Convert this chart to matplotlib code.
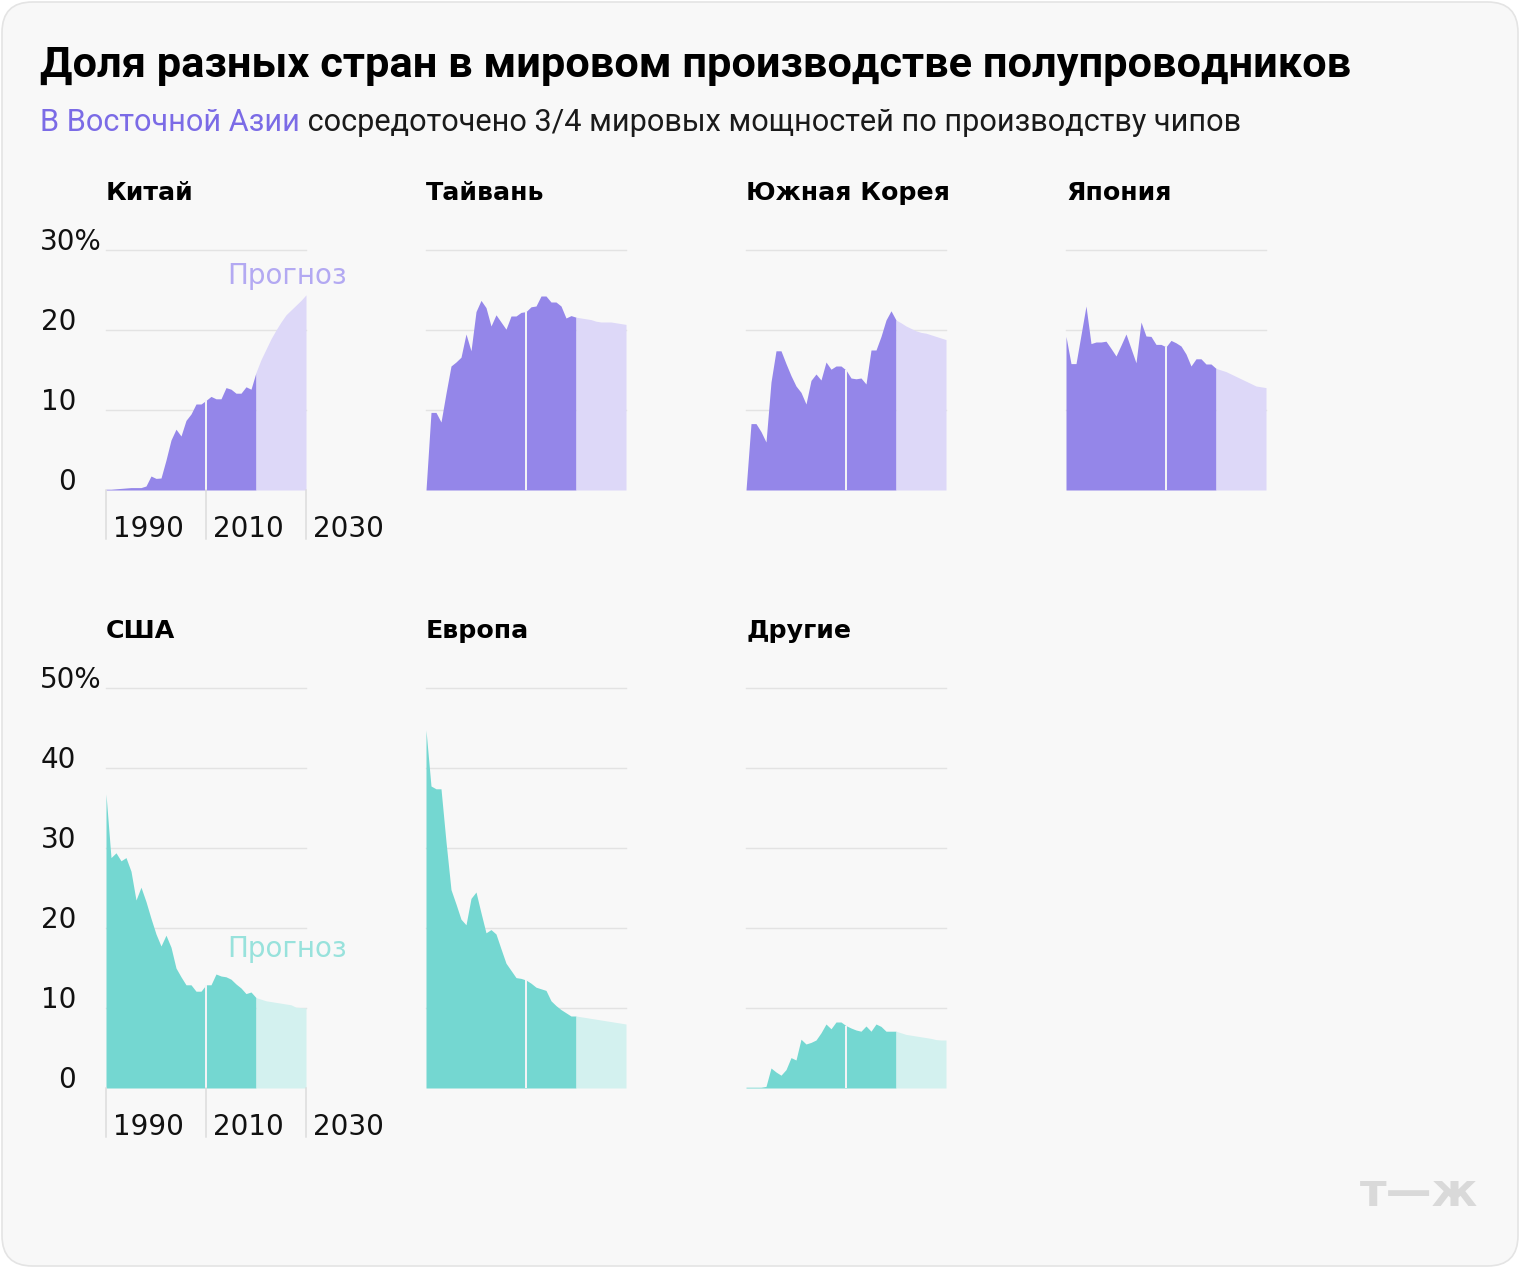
import matplotlib
matplotlib.use("Agg")
import matplotlib.pyplot as plt
from matplotlib.patches import FancyBboxPatch

# ---------------- data ----------------
years_actual = list(range(1990, 2021))
years_forecast = list(range(2020, 2031))

china_actual = [0.1, 0.1, 0.15, 0.2, 0.25, 0.3, 0.3, 0.3, 0.5, 1.75, 1.45, 1.5, 3.75, 6.25, 7.6,
                6.75, 8.7, 9.5, 10.75, 10.75, 11.2, 11.7, 11.4, 11.4, 12.8, 12.6, 12.1, 12.1, 12.9, 12.6, 14.7]
china_forecast = [14.7, 16.3, 17.6, 18.9, 20.0, 21.0, 21.9, 22.5, 23.1, 23.7, 24.4]

taiwan_actual = [0, 9.7, 9.7, 8.5, 12.1, 15.5, 16.0, 16.6, 19.5, 17.4, 22.3, 23.7, 22.8, 20.5, 21.9,
                 21.0, 20.1, 21.75, 21.75, 22.2, 22.3, 22.9, 23.0, 24.25, 24.25, 23.5, 23.5, 23.0, 21.5, 21.8, 21.6]
taiwan_forecast = [21.6, 21.5, 21.4, 21.3, 21.1, 21.0, 21.0, 21.0, 20.9, 20.8, 20.7]

korea_actual = [0, 8.3, 8.3, 7.3, 6.0, 13.5, 17.4, 17.4, 15.8, 14.3, 13.0, 12.2, 10.75, 13.7, 14.5,
                13.75, 16.0, 15.1, 15.5, 15.5, 15.0, 14.0, 13.9, 14.0, 13.25, 17.5, 17.5, 19.2, 21.25, 22.4, 21.25]
korea_forecast = [21.25, 20.9, 20.5, 20.2, 19.9, 19.7, 19.6, 19.4, 19.2, 19.0, 18.8]

japan_actual = [19.2, 15.8, 15.8, 19.4, 23.0, 18.3, 18.5, 18.5, 18.6, 17.7, 16.75, 18.1, 19.5, 17.7, 15.9,
                21.0, 19.25, 19.2, 18.2, 18.2, 17.9, 18.7, 18.4, 18.0, 17.0, 15.5, 16.4, 16.4, 15.75, 15.75, 15.2]
japan_forecast = [15.2, 15.0, 14.8, 14.5, 14.2, 13.9, 13.6, 13.3, 13.0, 12.9, 12.8]

usa_actual = [36.75, 28.8, 29.4, 28.4, 28.8, 27.1, 23.5, 25.1, 23.3, 21.2, 19.25, 17.75, 19.1, 17.6, 15.0,
              13.9, 12.9, 12.9, 12.1, 12.1, 12.9, 12.9, 14.25, 14.0, 13.9, 13.6, 13.0, 12.5, 11.8, 12.0, 11.3]
usa_forecast = [11.3, 11.1, 10.9, 10.8, 10.7, 10.6, 10.5, 10.4, 10.1, 10.05, 10.0]

europe_actual = [44.75, 37.75, 37.4, 37.4, 30.8, 24.8, 23.0, 21.1, 20.4, 23.7, 24.5, 21.9, 19.4, 19.8, 19.25,
                 17.4, 15.6, 14.7, 13.8, 13.7, 13.5, 13.1, 12.6, 12.4, 12.2, 10.9, 10.3, 9.8, 9.4, 9.0, 9.0]
europe_forecast = [9.0, 8.9, 8.8, 8.7, 8.6, 8.5, 8.4, 8.3, 8.2, 8.1, 8.0]

others_actual = [0.1, 0.1, 0.1, 0.1, 0.2, 2.5, 2.0, 1.6, 2.3, 3.8, 3.5, 6.1, 5.5, 5.7, 6.0,
                 6.9, 8.0, 7.4, 8.25, 8.25, 7.8, 7.5, 7.25, 7.1, 7.75, 7.1, 8.0, 7.7, 7.1, 7.1, 7.1]
others_forecast = [7.1, 6.9, 6.7, 6.6, 6.5, 6.4, 6.3, 6.2, 6.05, 6.0, 6.0]

top_names = ["Китай", "Тайвань", "Южная Корея", "Япония"]
bottom_names = ["США", "Европа", "Другие"]
top_ticks = [0, 10, 20, 30]
bottom_ticks = [0, 10, 20, 30, 40, 50]
x_tick_years = [1990, 2010, 2030]

title = "Доля разных стран в мировом производстве полупроводников"
subtitle_hl = "В Восточной Азии"
subtitle_rest = " сосредоточено 3/4 мировых мощностей по производству чипов"
forecast_label = "Прогноз"

# ---------------- style ----------------
W, H = 1520, 1268
DPI = 100
PT = 72 / DPI  # px -> pt

purple_dark, purple_light, purple_text = "#9486e9", "#ddd8f8", "#b3a9f2"
teal_dark, teal_light, teal_text = "#74d7d1", "#d3f1ef", "#98e2dc"
grid_c = "#e3e3e3"
bg = "#f8f8f8"

fig = plt.figure(figsize=(W / DPI, H / DPI), dpi=DPI)
fig.patch.set_facecolor("white")
renderer = fig.canvas.get_renderer()


def fx(x):
    return x / W


def fy(y):
    return 1 - y / H


card = FancyBboxPatch((fx(2), fy(1266)), fx(1516), 1264 / H,
                      boxstyle="round,pad=0,rounding_size=0.02",
                      transform=fig.transFigure, facecolor=bg, edgecolor="#e4e4e4",
                      linewidth=1.2, mutation_aspect=W / H, zorder=-10)
fig.patches.append(card)


def fit_text(x, y, s, target_w, **kw):
    t = fig.text(fx(x), fy(y), s, **kw)
    w = t.get_window_extent(renderer).width
    t.set_fontsize(t.get_fontsize() * target_w / w)
    return t


# Title and subtitle
fit_text(40, 77, title, 1310, fontsize=28, fontweight="bold", family="Roboto",
         color="black", va="baseline", ha="left")
t1 = fit_text(40, 131, subtitle_hl, 260, fontsize=23, family="Roboto",
              color="#7b6be6", va="baseline", ha="left")
fs_sub = t1.get_fontsize()
w1 = t1.get_window_extent(renderer).width
fig.text(fx(40 + w1), fy(131), subtitle_rest, fontsize=fs_sub, family="Roboto",
         color="#1a1a1a", va="baseline", ha="left")

NUM_FS = 27.8 * PT
TITLE_FS = 25.2 * PT


def panel(x0, y0, ymax, name, actual, forecast, dark, light, first, label_y):
    height = ymax * 8
    ax = fig.add_axes([fx(x0), fy(y0), 200 / W, height / H])
    ax.set_zorder(1)
    ax.set_xlim(1990, 2030)
    ax.set_ylim(0, ymax)
    ax.axis("off")
    ax.patch.set_alpha(0)
    ticks = top_ticks if ymax == 30 else bottom_ticks
    for t in ticks[1:]:
        ax.axhline(t, color=grid_c, lw=1.4 * PT, zorder=1, clip_on=False)
    ax.fill_between(years_actual, 0, actual, color=dark, lw=0, zorder=2)
    ax.fill_between(years_forecast, 0, forecast, color=light, lw=0, zorder=2)
    v2010 = actual[years_actual.index(2010)]
    ax.vlines(2010, 0, v2010, color="#f3f3f6", lw=2.0 * PT, zorder=3)
    fig.text(fx(x0), fy(label_y), name, fontsize=TITLE_FS, fontweight="bold",
             family="DejaVu Sans", color="black", va="baseline", ha="left")
    if first:
        for t in ticks:
            ypx = y0 - t * 8
            if t == ticks[-1]:
                fig.text(fx(40), fy(ypx), f"{t}%", fontsize=NUM_FS, family="DejaVu Sans",
                         color="#111111", va="baseline", ha="left")
            else:
                fig.text(fx(76), fy(ypx), f"{t}", fontsize=NUM_FS, family="DejaVu Sans",
                         color="#111111", va="baseline", ha="right")
        for yr in x_tick_years:
            xp = x0 + (yr - 1990) * 5
            fig.add_artist(plt.Line2D([fx(xp), fx(xp)], [fy(y0), fy(y0 + 49)],
                                      transform=fig.transFigure, color="#dcdcdc",
                                      lw=1.5 * PT))
            fig.text(fx(xp + 7), fy(y0 + 47), str(yr), fontsize=NUM_FS, family="DejaVu Sans",
                     color="#111111", va="baseline", ha="left")
    return ax


top_data = [(china_actual, china_forecast), (taiwan_actual, taiwan_forecast),
            (korea_actual, korea_forecast), (japan_actual, japan_forecast)]
for i, (name, (a, f)) in enumerate(zip(top_names, top_data)):
    panel(106 + 320 * i, 490, 30, name, a, f, purple_dark, purple_light, i == 0, 200)

bottom_data = [(usa_actual, usa_forecast), (europe_actual, europe_forecast),
               (others_actual, others_forecast)]
for i, (name, (a, f)) in enumerate(zip(bottom_names, bottom_data)):
    panel(106 + 320 * i, 1088, 50, name, a, f, teal_dark, teal_light, i == 0, 638)

fig.text(fx(227), fy(283.5), forecast_label, fontsize=NUM_FS, family="DejaVu Sans",
         color=purple_text, va="baseline", ha="left", zorder=5)
fig.text(fx(227), fy(957), forecast_label, fontsize=NUM_FS, family="DejaVu Sans",
         color=teal_text, va="baseline", ha="left", zorder=5)

# logo
fit_text(1360, 1206, "т—ж", 118, fontsize=20, fontweight="heavy", family="DejaVu Sans",
         color="#d9d9d9", va="baseline", ha="left")

fig.savefig("out.png", dpi=DPI, facecolor="white")
